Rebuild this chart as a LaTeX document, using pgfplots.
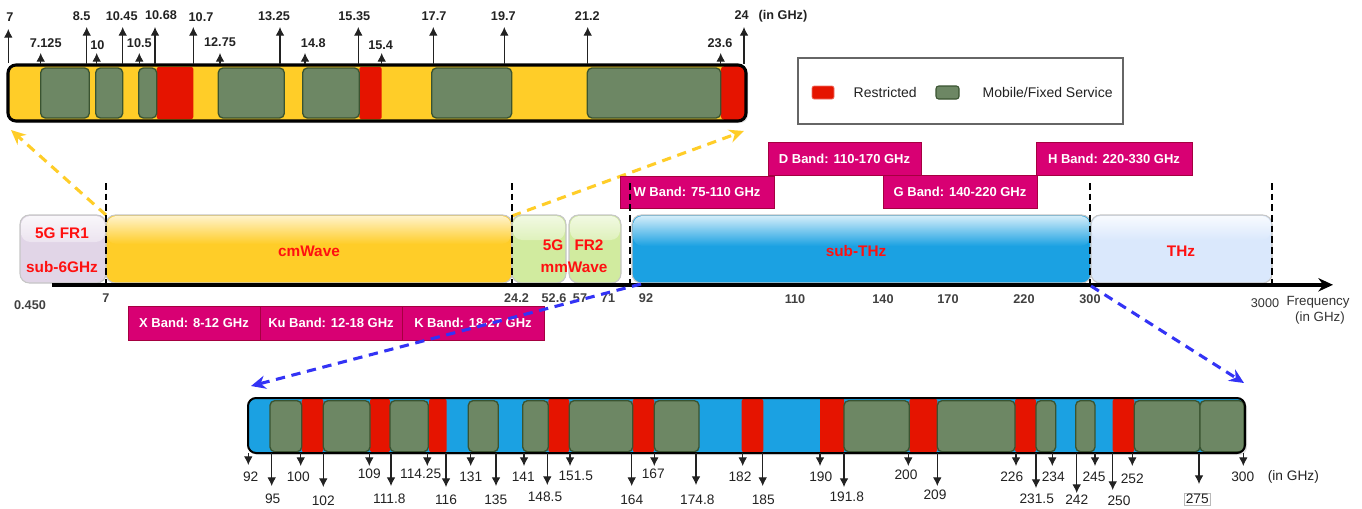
\documentclass[border=0pt]{standalone}
\usepackage{pgfplots}
\pgfplotsset{compat=1.18}
\usepackage{fontspec}
\setmainfont{Liberation Sans}
\usetikzlibrary{arrows.meta}

\definecolor{cmy}{HTML}{FFCD28}
\definecolor{mfg}{HTML}{6D8764}
\definecolor{mfgd}{HTML}{3A5431}
\definecolor{rred}{HTML}{E51400}
\definecolor{thzb}{HTML}{1BA1E2}
\definecolor{mag}{HTML}{D80073}
\definecolor{magd}{HTML}{A50040}
\definecolor{fr1}{HTML}{E1D5E7}
\definecolor{fr2}{HTML}{D1EB9F}
\definecolor{thz}{HTML}{DAE8FC}
\definecolor{bld}{HTML}{3333F5}
\definecolor{txr}{HTML}{FF1010}
\definecolor{txg}{HTML}{222222}

\pgfplotsset{
  greenseg/.style={fill=mfg, draw=mfgd, line width=1pt, rounded corners=3.5pt},
  redseg/.style={fill=rred, draw=none, rounded corners=1.5pt},
  upar/.style={txg, line width=0.8pt, -{Latex[length=6.5pt,width=6.5pt]}},
  magbox/.style={fill=mag, draw=magd, line width=0.6pt},
  bandbox/.style={draw=gray!45, line width=0.8pt, rounded corners=7pt},
}
% rectangle from plain numbers: [style]{x1}{x2}{y1}{y2}
\newcommand{\Rect}[5][]{\addplot[#1] coordinates {(#2,#4) (#3,#4) (#3,#5) (#2,#5)} -- cycle;}
% upward arrow: {x}{from}{tip}
\newcommand{\UA}[3]{\addplot[upar] coordinates {(#1,#2) (#1,#3)};}
\newcommand{\TL}[3]{\node[txg, font=\fontsize{9.5pt}{11pt}\selectfont\bfseries] at (axis cs:#1,#2) {#3};}
\newcommand{\BL}[3]{\node[txg, font=\fontsize{10.3pt}{12pt}\selectfont] at (axis cs:#1,#2) {#3};}
\newcommand{\AL}[3]{\node[black!75, font=\fontsize{9.5pt}{11pt}\selectfont\bfseries] at (axis cs:#1,#2) {#3};}

\begin{document}
\begin{tikzpicture}
\begin{axis}[
  width=1021.5pt, height=381pt, scale only axis,
  xmin=0, xmax=1362, ymin=0, ymax=508, y dir=reverse,
  hide axis, clip=false, enlargelimits=false]

% ---------- yellow dashed zoom arrows ----------
\addplot[cmy, line width=2.3pt, dash pattern=on 7pt off 5pt, -{Stealth[length=11pt,width=10pt]}] coordinates {(106,215) (11,130)};
\addplot[cmy, line width=2.3pt, dash pattern=on 7pt off 5pt, -{Stealth[length=11pt,width=10pt]}] coordinates {(512,216) (744,131)};

% ---------- top zoom bar (7-24 GHz) ----------
\Rect[fill=black!12, draw=none, rounded corners=6pt]{10}{748}{67}{123}
\Rect[fill=cmy, draw=none, rounded corners=6pt]{8}{746}{65}{121}
\Rect[redseg]{156.7}{193.3}{67}{119}
\Rect[redseg]{359.3}{381.7}{67}{119}
\Rect[redseg, rounded corners=3pt]{720.7}{745}{66}{120}
\Rect[greenseg]{40.7}{89.3}{68}{118}
\Rect[greenseg]{95.7}{122.7}{68}{118}
\Rect[greenseg]{138.7}{156.7}{68}{118}
\Rect[greenseg]{218.3}{284.3}{68}{118}
\Rect[greenseg]{302.7}{359.3}{68}{118}
\Rect[greenseg]{431.7}{511.7}{68}{118}
\Rect[greenseg]{587.3}{720.7}{68}{118}
\Rect[draw=black, line width=2.3pt, rounded corners=6pt]{8}{746}{65}{121}

% top arrows (tall) and labels
\UA{8.3}{63}{29}      \TL{10}{17}{7}
\UA{86.7}{64}{27}     \TL{81.7}{16.5}{8.5}
\UA{122.7}{64}{27}    \TL{121.7}{16}{10.45}
\UA{155}{64}{27}      \TL{161}{15}{10.68}
\UA{193.3}{64}{27}    \TL{201}{17}{10.7}
\UA{280}{64}{27}      \TL{274}{16}{13.25}
\UA{358.3}{64}{27}    \TL{354.3}{16}{15.35}
\UA{433.3}{64}{27}    \TL{434}{16}{17.7}
\UA{504.3}{64}{27}    \TL{503.3}{16}{19.7}
\UA{587.7}{64}{27}    \TL{587.3}{16}{21.2}
\UA{744}{64}{27}      \TL{741.7}{15}{24}
\TL{783}{16}{(in GHz)}
% top arrows (short)
\UA{40.7}{64}{53}     \TL{45.7}{43}{7.125}
\UA{96.7}{64}{53}     \TL{97.3}{45}{10}
\UA{139.3}{64}{53}    \TL{139.3}{43}{10.5}
\UA{220}{64}{53}      \TL{220}{42}{12.75}
\UA{305}{64}{53}      \TL{313.3}{43}{14.8}
\UA{381.7}{64}{53}    \TL{380.7}{45}{15.4}
\UA{720.7}{64}{53}    \TL{720}{43}{23.6}

% ---------- legend ----------
\Rect[fill=white, draw=black!60, line width=1pt]{798}{1123}{58}{124}
\Rect[fill=rred, draw=rred!60, line width=0.5pt, rounded corners=1.5pt]{812}{834}{86}{99}
\Rect[fill=mfg, draw=mfgd, line width=0.8pt, rounded corners=2pt]{936}{959}{86}{99}
\node[anchor=west, txg, font=\fontsize{10.5pt}{12pt}\selectfont] at (axis cs:849,92.5) {Restricted};
\node[anchor=west, txg, font=\fontsize{10.5pt}{12pt}\selectfont] at (axis cs:978,92.5) {Mobile/Fixed Service};

% ---------- upper band boxes ----------
\Rect[magbox]{768}{921}{142.5}{175}
\Rect[magbox]{1036}{1192}{142.5}{175}
\Rect[magbox]{883}{1037}{175}{208}
\Rect[magbox]{620.5}{774}{176}{208}
\node[white, font=\fontsize{9.75pt}{11pt}\selectfont\bfseries] at (axis cs:844.5,159) {D Band: 110-170 GHz};
\node[white, font=\fontsize{9.75pt}{11pt}\selectfont\bfseries] at (axis cs:1114,159) {H Band: 220-330 GHz};
\node[white, font=\fontsize{9.75pt}{11pt}\selectfont\bfseries] at (axis cs:960,191.5) {G Band: 140-220 GHz};
\node[white, font=\fontsize{9.75pt}{11pt}\selectfont\bfseries] at (axis cs:697,192) {W Band: 75-110 GHz};

% ---------- main spectrum boxes ----------
\Rect[bandbox, fill=fr1]{20}{106}{215}{283}
\Rect[draw=none, top color=white!80!fr1, bottom color=white!35!fr1, rounded corners=7pt]{21}{105}{216}{242}
\Rect[bandbox, fill=cmy]{106}{512}{215}{283}
\Rect[draw=none, top color=white!75!cmy, bottom color=cmy, rounded corners=7pt]{107}{511}{216}{244}
\Rect[bandbox, fill=fr2]{512}{566}{215}{283}
\Rect[draw=none, top color=white!70!fr2, bottom color=white!30!fr2, rounded corners=7pt]{513}{565}{216}{240}
\Rect[bandbox, fill=fr2]{569}{621}{215}{283}
\Rect[draw=none, top color=white!70!fr2, bottom color=white!30!fr2, rounded corners=7pt]{570}{620}{216}{240}
\Rect[bandbox, fill=thzb]{632}{1091}{215}{283}
\Rect[draw=none, top color=white!80!thzb, bottom color=thzb, rounded corners=7pt]{633}{1090}{216}{246}
\Rect[bandbox, fill=thz]{1091}{1272}{215}{283}
\Rect[draw=none, top color=white!80!thz, bottom color=thz, rounded corners=7pt]{1092}{1271}{216}{240}

\node[txr, font=\fontsize{11.5pt}{13pt}\selectfont\bfseries] at (axis cs:62,233) {5G FR1};
\node[txr, font=\fontsize{11.5pt}{13pt}\selectfont\bfseries] at (axis cs:62,267.5) {sub-6GHz};
\node[txr, font=\fontsize{11.5pt}{13pt}\selectfont\bfseries] at (axis cs:309,251) {cmWave};
\node[txr, font=\fontsize{11.5pt}{13pt}\selectfont\bfseries] at (axis cs:553,245) {5G};
\node[txr, font=\fontsize{11.5pt}{13pt}\selectfont\bfseries] at (axis cs:589,245) {FR2};
\node[txr, font=\fontsize{11.5pt}{13pt}\selectfont\bfseries] at (axis cs:574,267) {mmWave};
\node[txr, font=\fontsize{11.5pt}{13pt}\selectfont\bfseries] at (axis cs:856,251) {sub-THz};
\node[txr, font=\fontsize{11.5pt}{13pt}\selectfont\bfseries] at (axis cs:1181,251) {THz};

% frequency axis
\addplot[black, line width=2.6pt, -{Stealth[length=11pt,width=10pt]}] coordinates {(52,284.8) (1333,284.8)};

% dashed separators
\addplot[black, line width=1.1pt, dash pattern=on 5pt off 3pt] coordinates {(106,183) (106,283)};
\addplot[black, line width=1.1pt, dash pattern=on 5pt off 3pt] coordinates {(512,183) (512,283)};
\addplot[black, line width=1.1pt, dash pattern=on 5pt off 3pt] coordinates {(630,183) (630,283)};
\addplot[black, line width=1.1pt, dash pattern=on 5pt off 3pt] coordinates {(1090,183) (1090,283)};
\addplot[black, line width=1.1pt, dash pattern=on 5pt off 3pt] coordinates {(1272,183) (1272,283)};

% lower band boxes
\Rect[magbox]{128.5}{260}{306}{340}
\Rect[magbox]{260}{402}{306}{340}
\Rect[magbox]{402}{544}{306}{340}
\node[white, font=\fontsize{9.75pt}{11pt}\selectfont\bfseries] at (axis cs:194,323) {X Band: 8-12 GHz};
\node[white, font=\fontsize{9.75pt}{11pt}\selectfont\bfseries] at (axis cs:331,323) {Ku Band: 12-18 GHz};
\node[white, font=\fontsize{9.75pt}{11pt}\selectfont\bfseries] at (axis cs:473,323) {K Band: 18-27 GHz};

% axis tick labels
\AL{30}{305}{0.450}
\AL{106}{298}{7}
\AL{516.5}{298}{24.2}
\AL{554}{298}{52.6}
\AL{580}{298}{57}
\AL{608}{298}{71}
\AL{646}{298}{92}
\AL{795}{299}{110}
\AL{883}{299}{140}
\AL{948}{299}{170}
\AL{1024}{299}{220}
\AL{1090}{299}{300}
\node[black!80, font=\fontsize{9.5pt}{11pt}\selectfont] at (axis cs:1265,303) {3000};
\node[black!80, font=\fontsize{10pt}{12pt}\selectfont] at (axis cs:1318,302) {Frequency};
\node[black!80, font=\fontsize{10pt}{12pt}\selectfont] at (axis cs:1320,318.5) {(in GHz)};

% blue dashed zoom arrows
\addplot[bld, line width=2.3pt, dash pattern=on 7pt off 5pt, -{Stealth[length=11pt,width=10pt]}] coordinates {(641,284) (251,386)};
\addplot[bld, line width=2.3pt, dash pattern=on 7pt off 5pt, -{Stealth[length=11pt,width=10pt]}] coordinates {(1091,286) (1244,383)};

% ---------- bottom zoom bar (92-300 GHz) ----------
\Rect[fill=black!12, draw=none, rounded corners=6pt]{250}{1247}{400}{455}
\Rect[fill=thzb, draw=none, rounded corners=6pt]{248}{1245}{398}{453}
\Rect[redseg]{301.7}{323.3}{399}{452}
\Rect[redseg]{370}{390}{399}{452}
\Rect[redseg]{429}{446.7}{399}{452}
\Rect[redseg]{548.3}{569.3}{399}{452}
\Rect[redseg]{632.7}{654.3}{399}{452}
\Rect[redseg]{741.7}{763.3}{399}{452}
\Rect[redseg]{820}{844}{398}{453}
\Rect[redseg]{909.3}{937.3}{399}{452}
\Rect[redseg]{1015}{1036}{399}{452}
\Rect[redseg]{1112.7}{1134.3}{399}{452}
\Rect[greenseg]{270}{301.7}{400.7}{451.7}
\Rect[greenseg]{323.3}{370}{400.7}{451.7}
\Rect[greenseg]{390}{428.3}{400.7}{451.7}
\Rect[greenseg]{468.3}{498.3}{400.7}{451.7}
\Rect[greenseg]{522.7}{548.3}{400.7}{451.7}
\Rect[greenseg]{569.3}{632.7}{400.7}{451.7}
\Rect[greenseg]{654.3}{699}{400.7}{451.7}
\Rect[greenseg]{844}{909.3}{400.7}{451.7}
\Rect[greenseg]{937.3}{1015}{400.7}{451.7}
\Rect[greenseg]{1036}{1055.7}{400.7}{451.7}
\Rect[greenseg]{1075.7}{1095}{400.7}{451.7}
\Rect[greenseg]{1134.3}{1200}{400.7}{451.7}
\Rect[greenseg]{1200}{1244}{400.7}{451.7}
\Rect[draw=black, line width=1.5pt, rounded corners=6pt]{248}{1245}{398}{453}

% bottom arrows: short
\addplot[upar] coordinates {(248.3,453) (248.3,465)};
\addplot[upar] coordinates {(300.7,453) (300.7,466)};
\addplot[upar] coordinates {(369.3,453) (369.3,466)};
\addplot[upar] coordinates {(427.3,453) (427.3,466)};
\addplot[upar] coordinates {(470.7,453) (470.7,466)};
\addplot[upar] coordinates {(524,453) (524,466)};
\addplot[upar] coordinates {(570,453) (570,466)};
\addplot[upar] coordinates {(654.3,453) (654.3,466)};
\addplot[upar] coordinates {(742.7,453) (742.7,466)};
\addplot[upar] coordinates {(820,453) (820,466)};
\addplot[upar] coordinates {(908.3,453) (908.3,466)};
\addplot[upar] coordinates {(1016,453) (1016,466)};
\addplot[upar] coordinates {(1052.3,453) (1052.3,466)};
\addplot[upar] coordinates {(1095,453) (1095,466)};
\addplot[upar] coordinates {(1132.3,453) (1132.3,466)};
\addplot[upar] coordinates {(1243.3,453) (1243.3,466)};
% bottom arrows: long
\addplot[upar] coordinates {(271.7,453) (271.7,486)};
\addplot[upar] coordinates {(323.3,453) (323.3,487)};
\addplot[upar] coordinates {(391,453) (391,486)};
\addplot[upar] coordinates {(446,453) (446,487)};
\addplot[upar] coordinates {(496,453) (496,486)};
\addplot[upar] coordinates {(547.3,453) (547.3,485)};
\addplot[upar] coordinates {(631.7,453) (631.7,486)};
\addplot[upar] coordinates {(696,453) (696,485)};
\addplot[upar] coordinates {(762.7,453) (762.7,486)};
\addplot[upar] coordinates {(844,453) (844,487)};
\addplot[upar] coordinates {(937.3,453) (937.3,486)};
\addplot[upar] coordinates {(1036,453) (1036,488)};
\addplot[upar] coordinates {(1076.7,453) (1076.7,493)};
\addplot[upar] coordinates {(1112.7,453) (1112.7,490)};
\addplot[upar] coordinates {(1199,453) (1199,484)};

% bottom labels
\BL{250.7}{477}{92}
\BL{298.3}{477}{100}
\BL{369.3}{474}{109}
\BL{420.7}{474}{114.25}
\BL{470.7}{477}{131}
\BL{523.3}{477}{141}
\BL{575.7}{476}{151.5}
\BL{653.3}{474}{167}
\BL{740}{477}{182}
\BL{820.7}{477}{190}
\BL{906}{475}{200}
\BL{1011.7}{477}{226}
\BL{1053.3}{477}{234}
\BL{1094}{477}{245}
\BL{1132.3}{479}{252}
\BL{1242.7}{477}{300}
\BL{1293.3}{477}{(in GHz)}
\BL{272.7}{499}{95}
\BL{323.3}{501}{102}
\BL{389.3}{499}{111.8}
\BL{446}{500}{116}
\BL{495.7}{500}{135}
\BL{545}{497}{148.5}
\BL{631.7}{500}{164}
\BL{697.3}{500}{174.8}
\BL{763.3}{500}{185}
\BL{846.7}{497}{191.8}
\BL{935}{495}{209}
\BL{1036.7}{499}{231.5}
\BL{1076.7}{500}{242}
\BL{1119}{501}{250}
\node[txg, draw=gray!55, line width=0.4pt, inner sep=1pt, font=\fontsize{10.3pt}{12pt}\selectfont] at (axis cs:1197.3,499) {275};

\end{axis}
\pgfresetboundingbox
\path (current axis.south west) rectangle (current axis.north east);
\end{tikzpicture}
\end{document}
